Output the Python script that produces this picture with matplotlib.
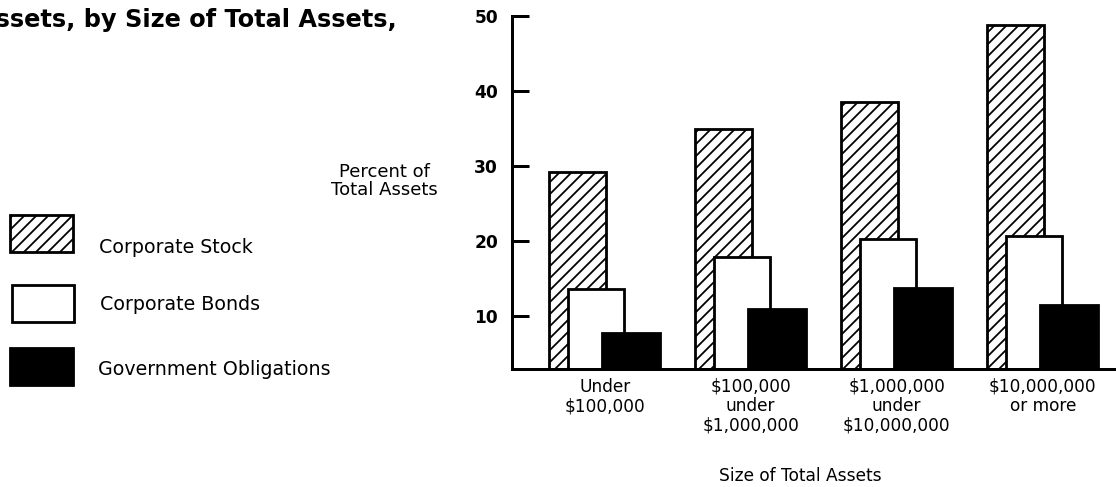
import numpy as np
import matplotlib.pyplot as plt
from matplotlib.patches import Rectangle

# values (percent of total assets)
groups = ['Under\n$100,000', '$100,000\nunder\n$1,000,000',
          '$1,000,000\nunder\n$10,000,000', '$10,000,000\nor more']
corporate_stock = [29.2, 34.9, 38.5, 48.8]
corporate_bonds = [13.6, 17.9, 20.3, 20.7]
government_obligations = [7.7, 10.9, 13.8, 11.5]
yticks = [10, 20, 30, 40, 50]

W, H = 1116, 487
plt.rcParams['hatch.linewidth'] = 1.8
plt.rcParams['font.family'] = ['DejaVu Sans']

fig = plt.figure(figsize=(W / 72, H / 72), dpi=72)

# overlay axes in pixel coordinates for the free text and legend boxes
ov = fig.add_axes([0, 0, 1, 1])
ov.set_xlim(0, W)
ov.set_ylim(H, 0)
ov.axis('off')

# main bar axes
ax = fig.add_axes([512 / W, 1 - 369 / H, (W - 512 + 10) / W, (369 - 16) / H])
x = np.arange(len(groups))
lw = 2.8
ax.bar(x - 0.185, corporate_stock, 0.39, color='white', edgecolor='black',
       hatch='//', linewidth=lw, zorder=2)
ax.bar(x - 0.06, corporate_bonds, 0.38, color='white', edgecolor='black',
       linewidth=lw, zorder=3)
ax.bar(x + 0.182, government_obligations, 0.40, color='black', edgecolor='black',
       linewidth=lw, zorder=4)

ax.set_xlim((512 - 604.7) / 146.0, (W + 10 - 604.7) / 146.0)
ax.set_ylim(2.95, 50)
for s in ['top', 'right']:
    ax.spines[s].set_visible(False)
for s in ['left', 'bottom']:
    ax.spines[s].set_linewidth(3)
    ax.spines[s].set_zorder(5)

ax.set_yticks(yticks)
ax.set_yticklabels([str(v) for v in yticks],
                   family=['Liberation Sans Narrow', 'DejaVu Sans'],
                   fontweight='bold', fontsize=17)
ax.tick_params(axis='y', direction='in', length=17, width=3, pad=14)
ax.set_xticks(x)
ax.set_xticklabels(groups, fontsize=17, linespacing=1.1)
ax.tick_params(axis='x', length=0, pad=9)
ax.patch.set_alpha(0)

# title fragment, cut by the left edge
ov.text(397, 27, 'Assets, by Size of Total Assets,', ha='right', va='baseline',
        fontsize=24, fontweight='bold')

ov.text(384, 181, 'Percent of\nTotal Assets', ha='center', va='center',
        fontsize=18, linespacing=1.05)
ov.text(800, 476, 'Size of Total Assets', ha='center', va='center', fontsize=17)

# legend
ov.add_patch(Rectangle((10, 215), 63, 37, facecolor='white', edgecolor='black',
                       hatch='//', linewidth=lw))
ov.add_patch(Rectangle((12, 285), 62, 37, facecolor='white', edgecolor='black',
                       linewidth=lw))
ov.add_patch(Rectangle((10, 348), 63, 37, facecolor='black', edgecolor='black',
                       linewidth=lw))
ov.text(99, 253, 'Corporate Stock', va='baseline', fontsize=19)
ov.text(100, 310, 'Corporate Bonds', va='baseline', fontsize=19)
ov.text(98, 375, 'Government Obligations', va='baseline', fontsize=19)

fig.savefig('out.png', dpi=72)
